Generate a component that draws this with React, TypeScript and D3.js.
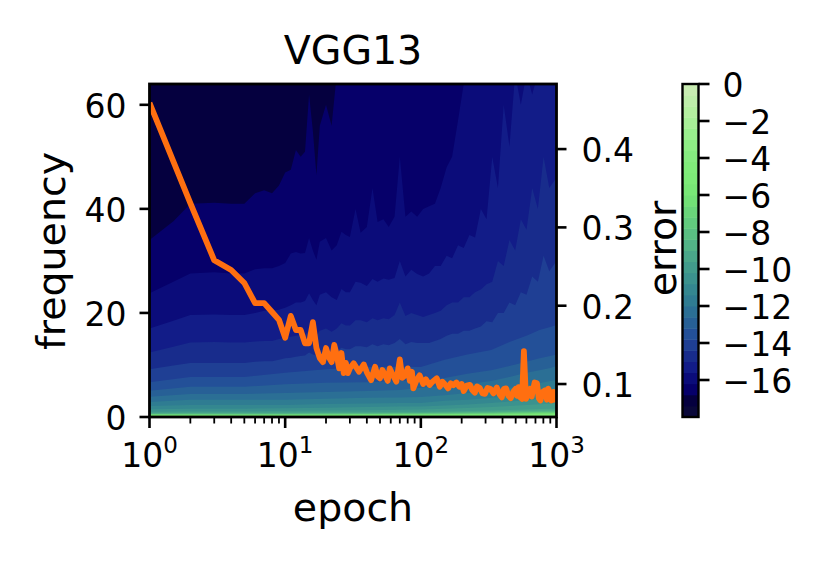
import * as d3 from "d3";
import { useEffect, useRef } from "react";

const WIDTH = 830;
const HEIGHT = 570;
const FONT = "'DejaVu Sans', sans-serif";

// contour boundaries with a jagged outline, frequency at each epoch
const fineEpochs = [1, 1.5, 2, 3, 4, 5, 6, 7, 8, 9, 10, 11, 12, 13, 14, 15, 16, 17, 18, 20, 22, 24, 26, 28, 30, 33, 36, 40, 44, 48, 53, 58, 64, 70, 77, 85, 94, 104, 115, 127, 140, 155, 170, 188, 207, 228, 251, 277, 305, 336, 370, 408, 450, 496, 546, 601, 662, 729, 803, 885, 1000];
const level1 = [34, 37.6, 41, 41.2, 41, 41, 43, 43.6, 43, 44.5, 47, 47.5, 51.3, 50, 51, 62, 55, 46.5, 56, 60, 56, 66, 66, 66, 66, 66, 66, 66, 66, 66, 66, 66, 66, 66, 66, 66, 66, 66, 66, 66, 66, 66, 66, 66, 66, 66, 66, 66, 66, 66, 66, 66, 66, 66, 66, 66, 66, 66, 66, 66, 66];
const level2 = [23.8, 26, 27.6, 27.8, 27.6, 27.6, 28.4, 28.6, 28.6, 29, 29.6, 31.4, 31.7, 31.4, 31.5, 34.4, 32, 30.2, 33.7, 34.4, 32, 33, 35.6, 35, 34.6, 40, 35.4, 36.5, 44, 37.5, 38, 36.5, 38.5, 50, 38.5, 39.5, 38.5, 40, 40.5, 41, 44, 48, 50, 57, 64, 66, 66, 66, 66, 66, 66, 66, 66, 66, 66, 66, 66, 66, 66, 66, 66];
const level3 = [17, 18.5, 19.6, 19.7, 19.6, 19.6, 20, 20.4, 20.4, 20.6, 21, 21.5, 22, 22, 22.3, 23.8, 22.5, 21.5, 23.5, 24, 23, 22.5, 24.6, 24, 24, 26, 25.8, 25.2, 26.5, 26, 26.6, 26.4, 26.7, 30, 27, 28.3, 27.5, 27, 27.6, 29, 29, 31, 30.5, 33, 32.5, 35, 34.5, 40, 38, 50, 44, 60, 52, 66, 60, 66, 62, 66, 64, 66, 66];
const level4 = [12.4, 13.5, 14.3, 14.4, 14.3, 14.3, 14.5, 14.6, 14.6, 15, 15.2, 15.4, 15.6, 15.7, 15.8, 16.6, 16, 15.6, 16.6, 17, 16.4, 17, 18, 17.6, 17.6, 18.6, 18.6, 18.2, 19, 18.6, 19, 18.8, 19.6, 22, 19.4, 20, 19.6, 19.2, 19.6, 20, 20.4, 21.5, 22, 22, 23, 23, 24, 24.5, 25.5, 26, 30, 29, 34, 32, 38, 36, 44, 40, 50, 44, 46];
const level5 = [9.2, 9.9, 10.4, 10.4, 10.4, 10.4, 10.6, 10.7, 10.7, 11, 11.3, 11.4, 11.6, 11.7, 11.8, 12.4, 12, 11.8, 12.4, 12.7, 12.4, 12.6, 13.3, 13, 13, 13.6, 13.6, 13.4, 14, 13.6, 14, 13.8, 14.2, 15, 14, 14.4, 14.2, 14.2, 14.2, 14.6, 15, 15.6, 16, 16, 16.6, 16.6, 17, 17.4, 18.4, 18.2, 20, 20, 22, 21.5, 24, 23.5, 27, 26, 31, 28, 30];

// smoother contour boundaries near the bottom of the plot
const coarseEpochs = [1, 2, 5, 10, 20, 40, 70, 100, 150, 220, 330, 450, 600, 750, 900, 1000];
const level6 = [6.7, 7.7, 7.7, 8.5, 9.2, 9.6, 9.6, 9.6, 11, 12, 12.9, 14.4, 15.6, 16.7, 17.3, 17.7];
const level7 = [5.05, 5.8, 5.8, 6.3, 6.6, 6.7, 6.9, 6.9, 7.5, 8.3, 9, 9.8, 10.6, 11.3, 11.7, 12];
const level8 = [3.9, 4.4, 4.4, 4.6, 4.8, 5, 5.2, 5.6, 6, 6.3, 6.9, 7.7, 8.5, 9, 9.4, 9.8];
const level9 = [2.9, 3.3, 3.3, 3.3, 3.5, 3.7, 3.75, 3.85, 4.2, 4.6, 5, 5.6, 6, 6.5, 6.9, 7.1];
const level10 = [2.1, 2.3, 2.3, 2.3, 2.5, 2.6, 2.7, 2.7, 3.1, 3.3, 3.7, 4, 4.4, 4.8, 5, 5.2];
const level11 = [1.5, 1.6, 1.6, 1.7, 1.8, 1.9, 2, 2, 2.2, 2.4, 2.7, 3, 3.2, 3.5, 3.7, 3.8];
const level12 = [1, 1.1, 1.1, 1.2, 1.25, 1.3, 1.4, 1.45, 1.6, 1.75, 1.9, 2.1, 2.3, 2.45, 2.55, 2.6];
const level13 = [0.8, 0.85, 0.85, 0.9, 0.92, 0.95, 1, 1.02, 1.08, 1.15, 1.25, 1.35, 1.45, 1.52, 1.58, 1.6];
const level14 = [0.68, 0.7, 0.7, 0.72, 0.75, 0.78, 0.8, 0.84, 0.9, 0.95, 1.02, 1.1, 1.2, 1.27, 1.32, 1.35];
const level15 = [0.6, 0.62, 0.62, 0.64, 0.66, 0.68, 0.7, 0.74, 0.78, 0.82, 0.88, 0.95, 1.02, 1.08, 1.12, 1.15];
const level16 = [0.53, 0.55, 0.55, 0.56, 0.58, 0.6, 0.62, 0.65, 0.68, 0.72, 0.78, 0.84, 0.9, 0.95, 0.98, 1];
const level17 = [0.47, 0.48, 0.48, 0.49, 0.5, 0.52, 0.54, 0.56, 0.59, 0.62, 0.66, 0.72, 0.77, 0.81, 0.84, 0.85];
const level18 = [0.42, 0.43, 0.43, 0.44, 0.45, 0.46, 0.48, 0.5, 0.52, 0.55, 0.58, 0.62, 0.66, 0.7, 0.73, 0.75];
const level19 = [0.37, 0.38, 0.38, 0.39, 0.4, 0.41, 0.42, 0.44, 0.46, 0.48, 0.5, 0.54, 0.58, 0.61, 0.63, 0.65];
const level20 = [0.32, 0.33, 0.33, 0.34, 0.34, 0.35, 0.36, 0.38, 0.4, 0.42, 0.44, 0.47, 0.5, 0.52, 0.54, 0.55];
const level21 = [0.27, 0.28, 0.28, 0.28, 0.29, 0.3, 0.3, 0.32, 0.33, 0.35, 0.37, 0.39, 0.41, 0.43, 0.44, 0.45];

// colours of the 30 filled contour bands, -18 up to 0
const bandColors = ["#0a083a", "#05003f", "#06006a", "#0b0c7a", "#121c88", "#182c8c", "#1f3f94", "#235098", "#276096", "#2b6f95", "#2f7c92", "#348790", "#3b928e", "#429c8c", "#4aa78a", "#52b387", "#5abf82", "#62cb7e", "#6ad57a", "#72e076", "#78e776", "#7deb78", "#80ec7a", "#86ec80", "#8eee85", "#9aef8e", "#a8ef98", "#b4efa0", "#beedaa", "#c8ecb2"];
const colorbarTicks = [0, -2, -4, -6, -8, -10, -12, -14, -16];

// orange test error curve
const lossEpochs = [1, 2, 3, 4, 5, 6, 7, 8, 9, 10, 11, 12, 13, 14, 15, 16, 17, 18, 19, 20, 21, 22, 23, 24, 25, 26, 27, 28, 29, 30, 32, 35, 38, 40, 43, 46, 48, 50, 52, 54.5, 57, 59, 62, 66, 70, 73, 77, 80, 83, 86, 88, 93, 98, 104, 109, 116, 122, 131, 138, 144, 150, 159, 166, 174, 183, 192, 200, 207, 218, 230, 240, 250, 260, 272, 285, 297, 310, 325, 343, 363, 380, 395, 410, 425, 442, 460, 480, 500, 512, 525, 540, 557, 575, 596, 620, 640, 656, 690, 718, 740, 760, 790, 825, 850, 870, 895, 918, 950, 975, 1000];
const lossValues = [0.459, 0.331, 0.258, 0.2456, 0.229, 0.2034, 0.2034, 0.192, 0.182, 0.159, 0.187, 0.169, 0.169, 0.152, 0.152, 0.179, 0.146, 0.133, 0.128, 0.146, 0.134, 0.128, 0.15, 0.137, 0.12, 0.1396, 0.114, 0.127, 0.114, 0.12, 0.1264, 0.1157, 0.125, 0.115, 0.105, 0.122, 0.11, 0.1073, 0.118, 0.1115, 0.104, 0.12, 0.112, 0.103, 0.1315, 0.108, 0.1115, 0.12, 0.104, 0.1157, 0.0945, 0.105, 0.111, 0.1, 0.106, 0.0987, 0.103, 0.1073, 0.0966, 0.103, 0.1, 0.0945, 0.101, 0.0985, 0.102, 0.0965, 0.1, 0.091, 0.098, 0.099, 0.092, 0.089, 0.097, 0.095, 0.088, 0.0875, 0.095, 0.094, 0.088, 0.0955, 0.087, 0.083, 0.094, 0.0945, 0.085, 0.082, 0.09, 0.094, 0.085, 0.096, 0.083, 0.081, 0.1421, 0.081, 0.09, 0.094, 0.084, 0.102, 0.101, 0.082, 0.079, 0.09, 0.092, 0.08, 0.094, 0.087, 0.079, 0.09, 0.082, 0.0775];

const fineLevels = [level1, level2, level3, level4, level5];
const coarseLevels = [level6, level7, level8, level9, level10, level11, level12, level13, level14, level15, level16, level17, level18, level19, level20, level21];

export default function App() {
	const svgRef = useRef<SVGSVGElement>(null);

	useEffect(() => {
		if (!svgRef.current) return;
		const svg = d3.select(svgRef.current);
		svg.selectAll("*").remove();

		const left = 149.5;
		const right = 556.5;
		const top = 84;
		const bottom = 417;

		const x = d3.scaleLog().domain([1, 1000]).range([left, right]);
		const y = d3.scaleLinear().domain([0, 64]).range([bottom, top]);
		const yRight = d3.scaleLinear().domain([0.0579, 0.4831]).range([bottom, top]);

		svg.append("clipPath")
			.attr("id", "plot-clip")
			.append("rect")
			.attr("x", left)
			.attr("y", top)
			.attr("width", right - left)
			.attr("height", bottom - top);

		const plot = svg.append("g").attr("clip-path", "url(#plot-clip)");

		plot.append("rect")
			.attr("x", left)
			.attr("y", top)
			.attr("width", right - left)
			.attr("height", bottom - top)
			.attr("fill", bandColors[1]);

		// contour bands, painted from the top one down
		const drawLevel = (epochs: number[], values: number[], color: string) => {
			const area = d3
				.area<number>()
				.x((_d, i) => x(epochs[i]))
				.y0(bottom)
				.y1((d) => y(d));
			plot.append("path").datum(values).attr("fill", color).attr("d", area);
		};
		fineLevels.forEach((values, i) => drawLevel(fineEpochs, values, bandColors[i + 2]));
		coarseLevels.forEach((values, i) =>
			drawLevel(coarseEpochs, values, bandColors[i + 2 + fineLevels.length])
		);

		const line = d3
			.line<number>()
			.x((_d, i) => x(lossEpochs[i]))
			.y((d) => yRight(d));
		plot.append("path")
			.datum(lossValues)
			.attr("fill", "none")
			.attr("stroke", "#ff6f10")
			.attr("stroke-width", 5.8)
			.attr("stroke-linejoin", "round")
			.attr("d", line);

		// Axes
		const styleAxis = (g: any) => {
			g.select(".domain").remove();
			g.selectAll("line").attr("stroke", "#000").attr("stroke-width", 2.6);
			g.selectAll("text").attr("font-family", FONT).attr("font-size", 33).attr("fill", "#000").attr("dy", "0.39em");
			g.attr("font-family", null).attr("font-size", null);
		};

		const minorTicks = d3.range(0, 3).flatMap((p) =>
			d3.range(2, 10).map((m) => m * Math.pow(10, p))
		);
		const minor = svg.append("g")
			.attr("transform", `translate(0,${bottom})`)
			.call(d3.axisBottom(x).tickValues(minorTicks).tickSize(6.5).tickFormat(() => "").offset(0));
		minor.select(".domain").remove();
		minor.selectAll("line").attr("stroke", "#000").attr("stroke-width", 1.8);

		const xAxis = svg.append("g")
			.attr("transform", `translate(0,${bottom})`)
			.call(d3.axisBottom(x).tickValues([1, 10, 100, 1000]).tickSize(11).tickPadding(8).offset(0));
		styleAxis(xAxis);
		xAxis.selectAll<SVGTextElement, number>("text").each(function (d) {
			const text = d3.select(this);
			text.text(null).attr("dy", null).attr("y", 50);
			text.append("tspan").text("10");
			text.append("tspan")
				.text(String(Math.round(Math.log10(d))))
				.attr("font-size", 23)
				.attr("dy", -14);
		});

		const yAxis = svg.append("g")
			.attr("transform", `translate(${left},0)`)
			.call(d3.axisLeft(y).tickValues([0, 20, 40, 60]).tickSize(10).tickPadding(13).offset(0));
		styleAxis(yAxis);

		const yRightAxis = svg.append("g")
			.attr("transform", `translate(${right},0)`)
			.call(d3.axisRight(yRight).tickValues([0.1, 0.2, 0.3, 0.4]).tickSize(10).tickPadding(15).tickFormat(d3.format(".1f")).offset(0));
		styleAxis(yRightAxis);

		// Frame
		svg.append("rect")
			.attr("x", left)
			.attr("y", top)
			.attr("width", right - left)
			.attr("height", bottom - top)
			.attr("fill", "none")
			.attr("stroke", "#000")
			.attr("stroke-width", 2.8);

		// Colorbar
		const barLeft = 682.5;
		const barWidth = 16;
		const barScale = d3.scaleLinear().domain([-18, 0]).range([bottom, top]);
		const bandStep = 18 / bandColors.length;
		svg.append("g")
			.selectAll("rect")
			.data(bandColors)
			.enter()
			.append("rect")
			.attr("x", barLeft)
			.attr("width", barWidth)
			.attr("y", (_d, i) => barScale(-18 + (i + 1) * bandStep))
			.attr("height", (_d, i) => barScale(-18 + i * bandStep) - barScale(-18 + (i + 1) * bandStep) + 0.5)
			.attr("fill", (d) => d);
		const barAxis = svg.append("g")
			.attr("transform", `translate(${barLeft + barWidth},0)`)
			.call(d3.axisRight(barScale).tickValues(colorbarTicks).tickSize(11).tickPadding(13).tickFormat((d) => String(d).replace("-", "\u2212")).offset(0));
		styleAxis(barAxis);
		svg.append("rect")
			.attr("x", barLeft)
			.attr("y", top)
			.attr("width", barWidth)
			.attr("height", bottom - top)
			.attr("fill", "none")
			.attr("stroke", "#000")
			.attr("stroke-width", 2.4);

		// Titles
		const label = (text: string, lx: number, ly: number, size: number, rotate = 0) =>
			svg.append("text")
				.attr("transform", `translate(${lx},${ly}) rotate(${rotate})`)
				.attr("text-anchor", "middle")
				.attr("font-family", FONT)
				.attr("font-size", size)
				.attr("fill", "#000")
				.text(text);
		label("VGG13", 353, 64, 39.5);
		label("epoch", 353, 521, 39.5);
		label("frequency", 65, 251, 39.5, -90);
		label("error", 676, 248.5, 39.5, -90);
	}, []);

	return (
		<svg
			ref={svgRef}
			width={WIDTH}
			height={HEIGHT}
			style={{ position: "absolute", left: 0, top: 0, background: "#fff" }}
		/>
	);
}
